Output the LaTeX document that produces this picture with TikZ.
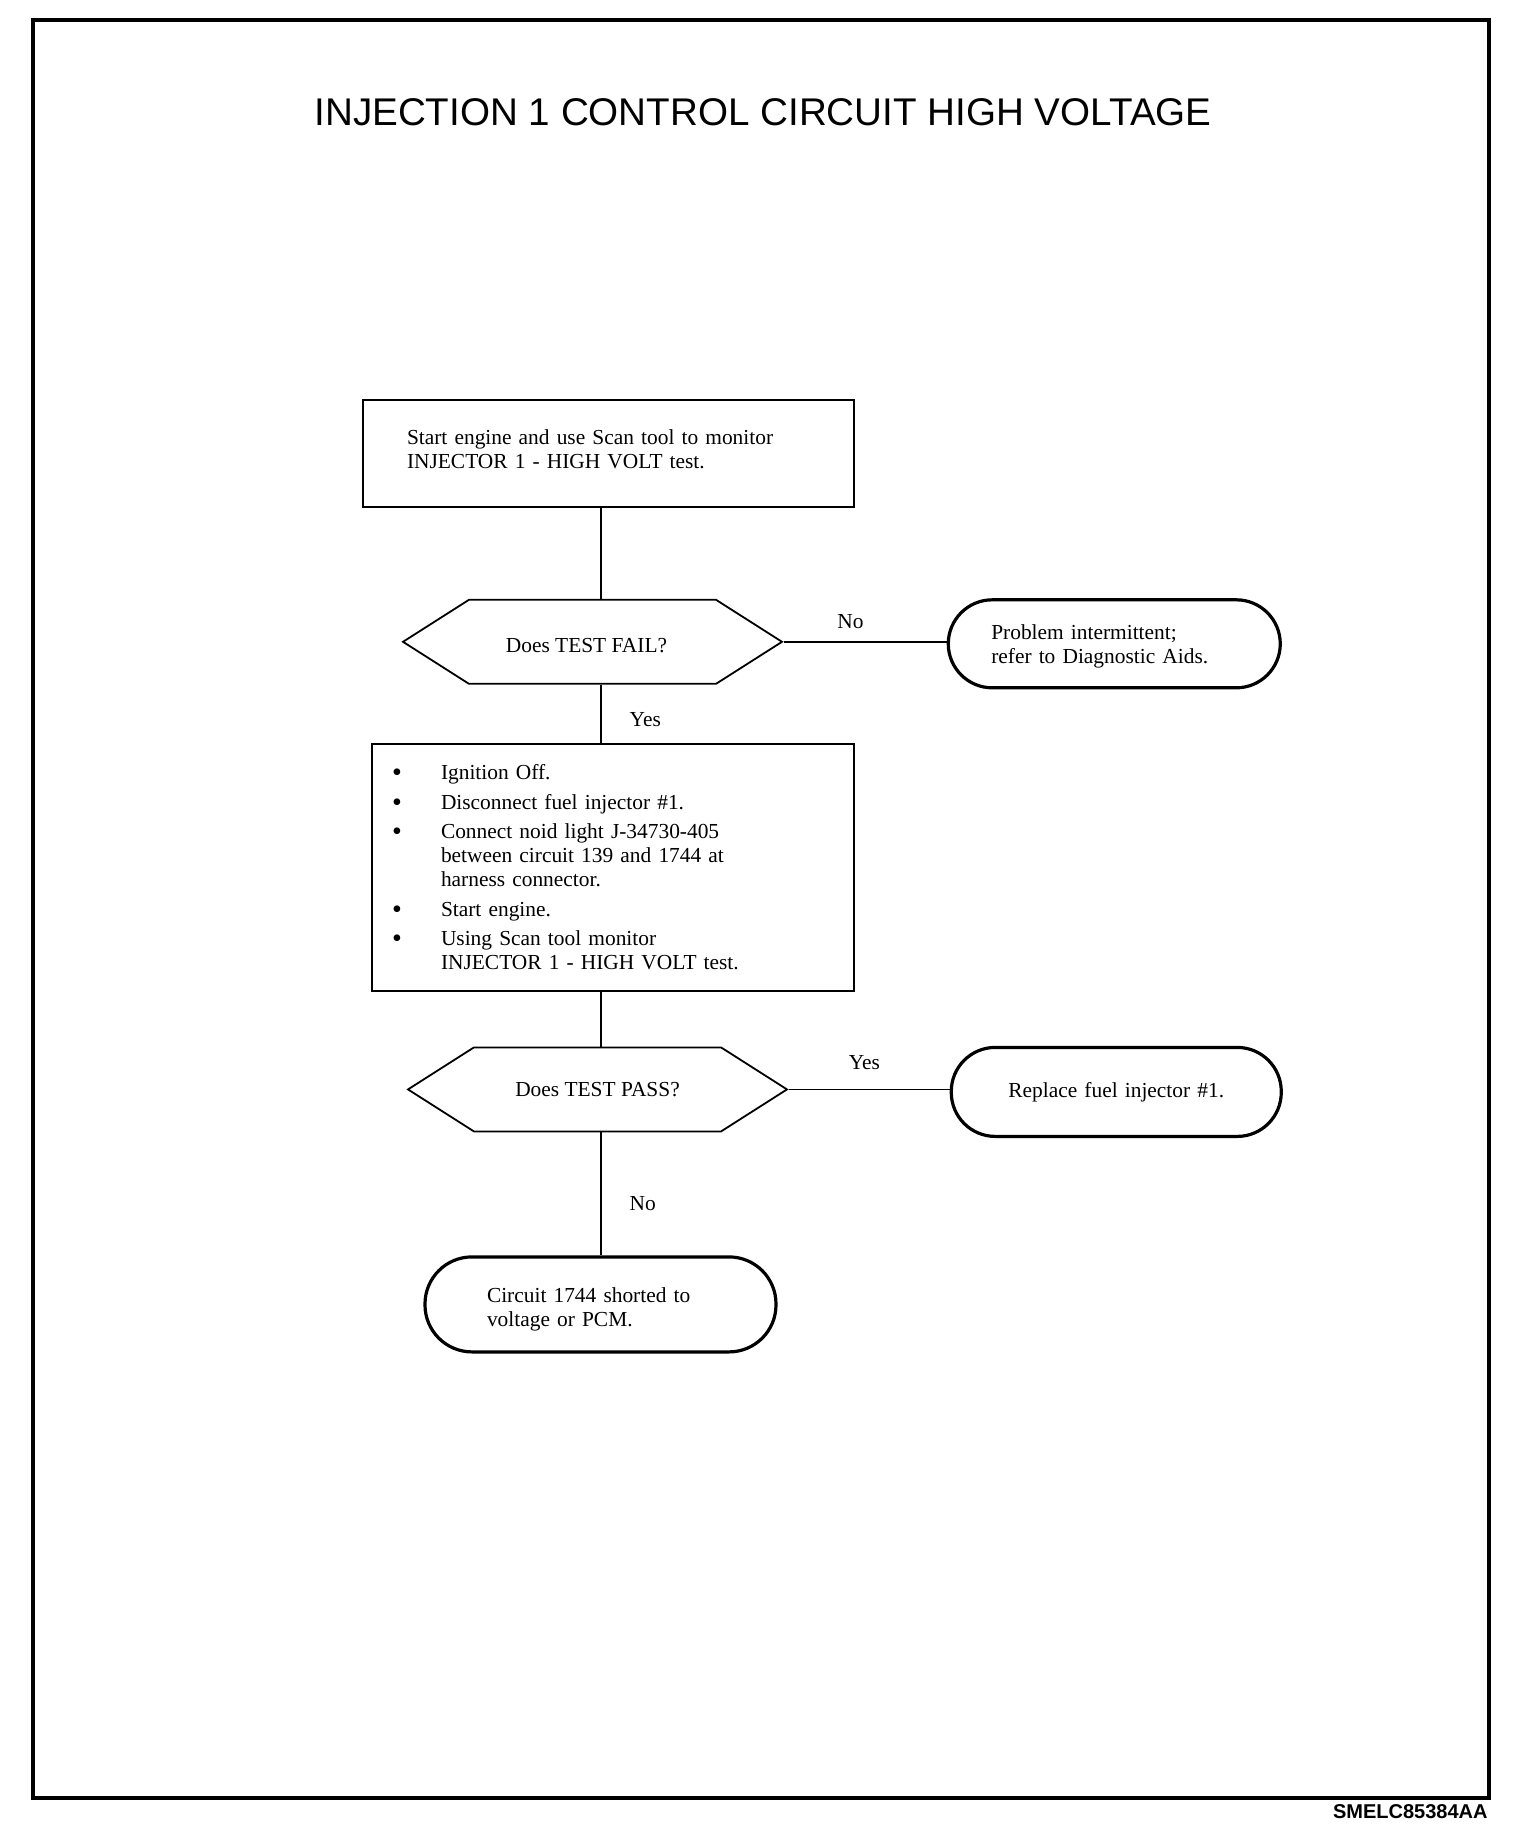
\documentclass[tikz,border=0pt]{standalone}
\usepackage{fontspec}
\setmainfont{Liberation Serif}
\setsansfont{Liberation Sans}
\usepackage{tikz}
\usetikzlibrary{positioning,shapes.symbols}
\newcommand{\dotmark}{\raisebox{-1pt}[\height][\depth]{\fontsize{14}{12}\selectfont\textbullet}}

\begin{document}
\begin{tikzpicture}[node distance=5mm, every node/.style={font=\fontsize{10.7}{12}\selectfont},
  box/.style={draw, line width=0.9pt, align=left, inner ysep=0pt},
  test/.style={draw, line width=0.9pt, shape=signal, signal to=west and east, signal pointer angle=65, minimum width=189.5pt, minimum height=42pt, inner sep=0pt},
  term/.style={draw, line width=1.6pt, rounded corners=22pt, align=left, inner ysep=0pt},
  lbl/.style={inner sep=1pt}]
\useasboundingbox (0,0) rectangle (768pt,-922pt);
\fill[white] (0,0) rectangle (768pt,-922pt);
\draw[line width=2pt] (16.5pt,-10pt) rectangle (744.5pt,-899pt);
\node[font=\sffamily\fontsize{19.3}{23}\selectfont] (title) at (381.5pt,-56pt) {INJECTION 1 CONTROL CIRCUIT HIGH VOLTAGE};
\node[anchor=east, inner sep=0pt, font=\sffamily\bfseries\fontsize{10}{12}\selectfont] (code) at (744pt,-906pt) {SMELC85384AA};
\coordinate (spine) at (300.5pt,0);
\node[box, text width=201.5pt, inner xsep=22pt, minimum height=53.5pt] (scan) at (304.25pt,-226.75pt) {Start engine and use Scan tool to monitor\\INJECTOR 1 - HIGH VOLT test.\par\vspace{4.7pt}\hrule height 0pt};
\node[test, below=45.5pt of scan, xshift=-8pt] (fail) {\raisebox{-2pt}[\height][\depth]{\hspace*{-6pt}Does TEST FAIL?}};
\node[term, right=81.5pt of fail, yshift=-1pt, text width=123pt, inner xsep=21.5pt, minimum height=44pt] (intermittent) {\rule{0pt}{10.3pt}Problem intermittent;\\refer to Diagnostic Aids.};
\node[box, below=29pt of fail, xshift=10.25pt, text width=221pt, inner xsep=10pt, minimum height=123.5pt] (noid) {\begin{tabular}{@{}p{24.5pt}@{}l@{}}
\rule{0pt}{11.4pt}\dotmark & Ignition Off.\\[2.75pt]
\dotmark & Disconnect fuel injector \#1.\\[2.75pt]
\dotmark & Connect noid light J-34730-405\\
 & between circuit 139 and 1744 at\\
 & harness connector.\\[2.75pt]
\dotmark & Start engine.\\[2.75pt]
\dotmark & Using Scan tool monitor\\
 & INJECTOR 1 - HIGH VOLT test.
\end{tabular}};
\node[test, below=27.5pt of noid, xshift=-7.75pt] (pass) {Does TEST PASS?};
\node[term, right=80.5pt of pass, yshift=-1.25pt, text width=125pt, inner xsep=20pt, minimum height=44.5pt, align=center] (replace) {Replace fuel injector \#1.};
\node[term, below=61.5pt of pass, xshift=1.5pt, text width=113.5pt, inner xsep=31pt, minimum height=47.5pt, rounded corners=23.5pt] (shorted) {\rule{0pt}{12pt}Circuit 1744 shorted to\\voltage or PCM.};
\draw[line width=0.7pt] (scan.south -| spine) -- (fail.north -| spine);
\draw[line width=0.7pt] (fail.east) -- node[lbl, above=5pt, pos=0.41] {No} (fail.east -| intermittent.west);
\draw[line width=0.7pt] (fail.south -| spine) -- node[lbl, right=13pt, pos=0.6] {Yes} (noid.north -| spine);
\draw[line width=0.7pt] (noid.south -| spine) -- (pass.north -| spine);
\draw[line width=0.7pt] (pass.east) -- node[lbl, above=8.5pt, pos=0.47] {Yes} (pass.east -| replace.west);
\draw[line width=0.7pt] (pass.south -| spine) -- node[lbl, right=13pt, pos=0.58] {No} (shorted.north -| spine);
\end{tikzpicture}
\end{document}
